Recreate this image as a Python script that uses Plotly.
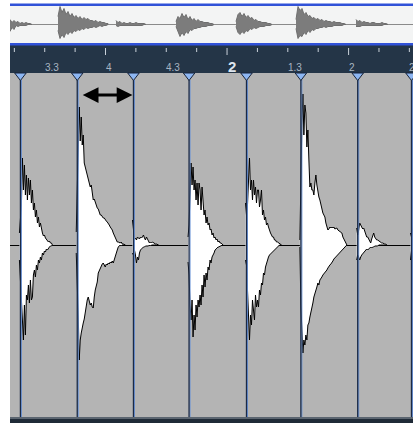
import plotly.graph_objects as go

# ---------------- data ----------------
# ruler (positions in sixteenth notes from bar 1)
ruler_ticks = list(range(9, 23))
ruler_major = [12, 16, 20]
ruler_label_pos = [10, 12, 14, 16, 18, 20, 22]
ruler_labels = ["3.3", "4", "4.3", "2", "1.3", "2", "2.3"]
bar_starts = [16]

# hitpoint positions (sixteenths)
hitpoints = [9.20, 11.07, 12.92, 14.75, 16.64, 18.43, 20.30, 22.07]

# waveform peaks per display column, first column just before each hitpoint
slice1_top = [12, 30, 40, 87, 55, 80, 50, 70, 45, 67, 50, 65, 42, 55, 35, 42, 28, 35, 22, 28,
              18, 22, 14, 12, 9, 10, 7, 6, 5, 3, 4, 2, 2, 0]
slice1_bot = [15, 40, 50, 75, 95, 60, 90, 50, 55, 40, 58, 35, 55, 52, 30, 25, 32, 20, 25, 15,
              18, 12, 15, 8, 10, 6, 7, 4, 5, 3, 2, 1, 1, 0]
slice2_top = [13, 60, 95, 138, 104, 128, 100, 110, 82, 78, 72, 68, 64, 62, 58, 60, 52, 45, 46, 42,
              40, 37, 36, 32, 30, 30, 28, 27, 27, 25, 24, 23, 22, 20, 18, 17, 15, 12, 10, 7,
              5, 3, 3, 2, 2, 3, 1, 1, 0, 0]
slice2_bot = [8, 40, 70, 115, 95, 88, 82, 78, 74, 70, 62, 55, 52, 56, 60, 58, 62, 63, 52, 45,
              40, 37, 28, 25, 23, 21, 19, 18, 20, 22, 19, 20, 18, 19, 17, 18, 16, 18, 14, 12,
              8, 5, 2, 1, 0, 1, 0, 0, 0, 0]
slice3_top = [25, 10, 6, 7, 5, 8, 7, 6, 8, 7, 8, 10, 7, 5, 8, 6, 4, 2, 3, 2, 3, 2, 2, 1, 1, 0, 0]
slice3_bot = [8, 10, 5, 10, 18, 12, 15, 8, 5, 4, 3, 2, 2, 1, 1, 1, 1, 0, 1, 0, 0, 0, 0, 0, 0, 0, 0]
slice4_top = [8, 20, 50, 82, 60, 78, 55, 65, 45, 62, 40, 62, 55, 35, 58, 38, 30, 35, 22, 28,
              20, 22, 15, 16, 10, 12, 7, 8, 5, 6, 3, 4, 2, 2, 1, 0]
slice4_bot = [17, 30, 60, 75, 55, 92, 70, 85, 60, 72, 55, 62, 50, 60, 40, 52, 30, 42, 28, 35,
              22, 25, 15, 18, 12, 10, 8, 5, 4, 3, 2, 2, 1, 1, 0, 0]
slice5_top = [42, 30, 40, 60, 87, 55, 65, 45, 65, 50, 58, 42, 55, 55, 38, 45, 55, 30, 35, 25,
              28, 20, 22, 18, 14, 12, 10, 8, 8, 5, 5, 3, 3, 2, 1, 1, 0]
slice5_bot = [15, 20, 60, 72, 95, 70, 80, 55, 60, 75, 50, 62, 55, 62, 45, 50, 38, 40, 28, 30,
              22, 18, 15, 12, 10, 9, 8, 6, 5, 4, 3, 2, 1, 1, 0, 0, 0]
slice6_top = [5, 80, 120, 151, 110, 140, 132, 98, 115, 85, 58, 62, 55, 55, 50, 62, 70, 60, 52, 48,
              45, 40, 38, 32, 30, 28, 22, 18, 15, 16, 18, 17, 18, 17, 18, 16, 17, 17, 15, 14,
              13, 12, 12, 8, 6, 5, 2, 0]
slice6_bot = [2, 60, 88, 108, 95, 100, 90, 95, 80, 78, 72, 65, 62, 58, 52, 48, 45, 42, 38, 40,
              35, 34, 32, 30, 28, 27, 26, 25, 23, 21, 20, 19, 18, 16, 14, 12, 11, 10, 9, 8,
              8, 6, 5, 5, 3, 2, 1, 0]
slice7_top = [17, 10, 15, 22, 20, 18, 16, 17, 13, 10, 8, 8, 6, 4, 2, 6, 10, 12, 8, 6,
              5, 5, 4, 3, 3, 2, 2, 1, 1, 1, 0]
slice7_bot = [15, 10, 12, 15, 12, 10, 9, 8, 6, 5, 4, 5, 4, 3, 2, 3, 2, 2, 1, 1,
              1, 1, 0, 0, 0, 0, 0, 0, 0, 0, 0]
slice8_top = [12, 8, 15, 20]
slice8_bot = [15, 6, 12, 15]

# overview (whole clip), onsets in overview columns, peaks every 2 columns
overview_onsets = [0, 48, 106, 166, 226, 286, 346]
ov1_top = [5, 2, 4, 2, 3, 1, 2, 1, 2, 1, 1, 0]
ov1_bot = [7, 3, 5, 1, 2, 1, 1, 1, 1, 0, 0, 0]
ov2_top = [8, 18, 12, 16, 10, 13, 8, 11, 7, 9, 6, 8, 5, 7, 5, 6, 4, 4, 3, 4, 2, 3, 2, 2, 1, 1]
ov2_bot = [6, 14, 10, 13, 8, 10, 7, 9, 6, 7, 5, 6, 4, 5, 3, 4, 3, 3, 2, 3, 2, 1, 2, 1, 1, 0]
ov3_top = [4, 2, 3, 1, 2, 1, 1, 2, 1, 1, 2, 1, 1, 1, 1, 0]
ov3_bot = [1, 2, 1, 1, 1, 1, 1, 1, 1, 1, 1, 1, 1, 1, 0, 0]
ov4_top = [3, 8, 6, 11, 7, 10, 5, 8, 4, 6, 3, 5, 3, 3, 2, 2, 2, 1, 1, 0]
ov4_bot = [2, 7, 12, 8, 11, 7, 9, 5, 6, 4, 4, 3, 3, 2, 2, 2, 1, 1, 1, 0]
ov5_top = [3, 10, 12, 8, 11, 7, 9, 6, 7, 4, 5, 3, 3, 2, 2, 2, 1, 1, 0]
ov5_bot = [2, 8, 10, 7, 9, 6, 7, 4, 5, 3, 4, 3, 2, 2, 2, 1, 1, 1, 0]
ov6_top = [5, 18, 14, 16, 10, 12, 8, 9, 6, 7, 5, 6, 4, 5, 3, 4, 3, 3, 2, 3, 2, 2, 2, 1, 1, 0]
ov6_bot = [4, 14, 11, 12, 8, 10, 6, 8, 5, 6, 4, 4, 3, 3, 2, 3, 2, 2, 2, 1, 1, 1, 1, 1, 0, 0]
ov7_top = [5, 3, 4, 2, 3, 2, 2, 1, 2, 2, 1, 1, 1, 2, 1, 1, 0]
ov7_bot = [2, 2, 2, 1, 1, 1, 1, 1, 1, 1, 1, 1, 1, 1, 0, 0, 0]

# ---------------- layout constants ----------------
W, H = 413, 423
COL = 1 / 30.38          # one display column in sixteenths
OV_STEP = 2
X_RANGE = [8.857, 22.12]


def py(px):  # pixel row -> paper y
    return (H - px) / H


LEFT = 10 / W

fig = go.Figure()

# ---- main waveform slices ----
slices = [(slice1_top, slice1_bot), (slice2_top, slice2_bot), (slice3_top, slice3_bot),
          (slice4_top, slice4_bot), (slice5_top, slice5_bot), (slice6_top, slice6_bot),
          (slice7_top, slice7_bot), (slice8_top, slice8_bot)]
for hp, (top, bot) in zip(hitpoints, slices):
    xs = [hp + (i - 1) * COL for i in range(len(top))]
    fig.add_trace(go.Scatter(
        x=xs + xs[::-1], y=top + [-b for b in bot[::-1]],
        mode="lines", fill="toself", fillcolor="white",
        line=dict(color="black", width=1), hoverinfo="skip", showlegend=False,
        xaxis="x", yaxis="y"))

# ---- hitpoint lines ----
lx, ly, bx = [], [], []
for hp in hitpoints:
    lx += [hp, hp, None]
    bx += [hp + COL, hp + COL, None]
    ly += [165, -172, None]
fig.add_trace(go.Scatter(x=bx, y=ly, mode="lines", line=dict(color="#6b94d8", width=1),
                         hoverinfo="skip", showlegend=False, xaxis="x", yaxis="y"))
fig.add_trace(go.Scatter(x=lx, y=ly, mode="lines", line=dict(color="#1b2a46", width=1.3),
                         hoverinfo="skip", showlegend=False, xaxis="x", yaxis="y"))
fig.add_trace(go.Scatter(
    x=hitpoints, y=[169.5] * len(hitpoints), mode="markers", cliponaxis=False,
    marker=dict(symbol="triangle-down", size=10, color="#8db6f2",
                line=dict(color="#16233a", width=1)),
    hoverinfo="skip", showlegend=False, xaxis="x", yaxis="y"))

# ---- ruler ticks ----
tx, ty = [], []
for t in ruler_ticks:
    tx += [t, t, None]
    ty += [25, 18 if t in ruler_major else 21, None]
fig.add_trace(go.Scatter(x=tx, y=ty, mode="lines", line=dict(color="#c9d1da", width=1),
                         hoverinfo="skip", showlegend=False, xaxis="x", yaxis="y3"))

# ---- overview ----
ovs = [(ov1_top, ov1_bot), (ov2_top, ov2_bot), (ov3_top, ov3_bot), (ov4_top, ov4_bot),
       (ov5_top, ov5_bot), (ov6_top, ov6_bot), (ov7_top, ov7_bot)]
for on, (top, bot) in zip(overview_onsets, ovs):
    xs = [on + i * OV_STEP for i in range(len(top))]
    fig.add_trace(go.Scatter(
        x=xs + xs[::-1], y=top + [-b for b in bot[::-1]],
        mode="lines", fill="toself", fillcolor="#7c7c7c",
        line=dict(color="#6f6f6f", width=1), hoverinfo="skip", showlegend=False,
        xaxis="x2", yaxis="y2"))

# ---- background shapes ----
shapes = [
    dict(type="rect", xref="paper", yref="paper", x0=LEFT, x1=1, y0=py(417), y1=py(73),
         fillcolor="#b4b4b4", line_width=0, layer="below"),
    dict(type="rect", xref="paper", yref="paper", x0=LEFT, x1=1, y0=py(73), y1=py(45),
         fillcolor="#243547", line_width=0, layer="below"),
    dict(type="rect", xref="paper", yref="paper", x0=LEFT, x1=1, y0=py(43), y1=py(6),
         fillcolor="#f3f4f4", line_width=0, layer="below"),
    dict(type="rect", xref="paper", yref="paper", x0=LEFT, x1=1, y0=py(6), y1=py(3.5),
         fillcolor="#3152d8", line_width=0, layer="below"),
    dict(type="rect", xref="paper", yref="paper", x0=LEFT, x1=1, y0=py(45.5), y1=py(43),
         fillcolor="#3152d8", line_width=0, layer="below"),
    dict(type="rect", xref="paper", yref="paper", x0=LEFT, x1=1, y0=py(419), y1=py(417),
         fillcolor="#5b6570", line_width=0, layer="below"),
    dict(type="rect", xref="paper", yref="paper", x0=LEFT, x1=1, y0=0, y1=py(419),
         fillcolor="#1f2a37", line_width=0, layer="below"),
]

# ---- annotations: ruler labels + arrow ----
annotations = []
for pos, lab in zip(ruler_label_pos, ruler_labels):
    bold = pos in bar_starts
    annotations.append(dict(
        x=pos, y=6.5 if bold else 6, xref="x", yref="y3", text=f"<b>{lab}</b>" if bold else lab,
        showarrow=False, xanchor="left", yanchor="middle", xshift=-2 if not bold else -1,
        font=dict(family="Liberation Sans, Arial, sans-serif",
                  size=15 if bold else 10, color="#dde5ee" if bold else "#a9b5c3")))
annotations.append(dict(
    x=hitpoints[2] - 1 * COL, y=150, ax=hitpoints[1] + 4 * COL, ay=150,
    xref="x", yref="y", axref="x", ayref="y", text="", showarrow=True,
    arrowhead=2, startarrowhead=2, arrowside="end+start",
    arrowwidth=3, arrowsize=1.05, startarrowsize=1.05, arrowcolor="black"))

ax_common = dict(showgrid=False, showticklabels=False, ticks="", showline=False,
                 zeroline=False, fixedrange=True)

fig.update_layout(
    width=W, height=H, margin=dict(l=0, r=0, t=0, b=0),
    paper_bgcolor="white", plot_bgcolor="rgba(0,0,0,0)",
    showlegend=False, shapes=shapes, annotations=annotations,
    xaxis=dict(domain=[LEFT, 1], range=X_RANGE, anchor="y", **ax_common),
    yaxis=dict(domain=[py(417), py(73)], range=[-172, 172], anchor="x",
               **{**ax_common, "zeroline": True}, zerolinecolor="black", zerolinewidth=1),
    yaxis3=dict(domain=[py(73), py(45)], range=[0, 28], anchor="x", **ax_common),
    xaxis2=dict(domain=[LEFT, 1], range=[0, 403], anchor="y2", **ax_common),
    yaxis2=dict(domain=[py(43), py(6)], range=[-18.5, 18.5], anchor="x2",
                **{**ax_common, "zeroline": True}, zerolinecolor="#8a8a8a", zerolinewidth=1),
)

fig.write_html("out.html", config={"displayModeBar": False},
               post_script="document.body.style.margin='0';document.body.style.overflow='hidden';")
